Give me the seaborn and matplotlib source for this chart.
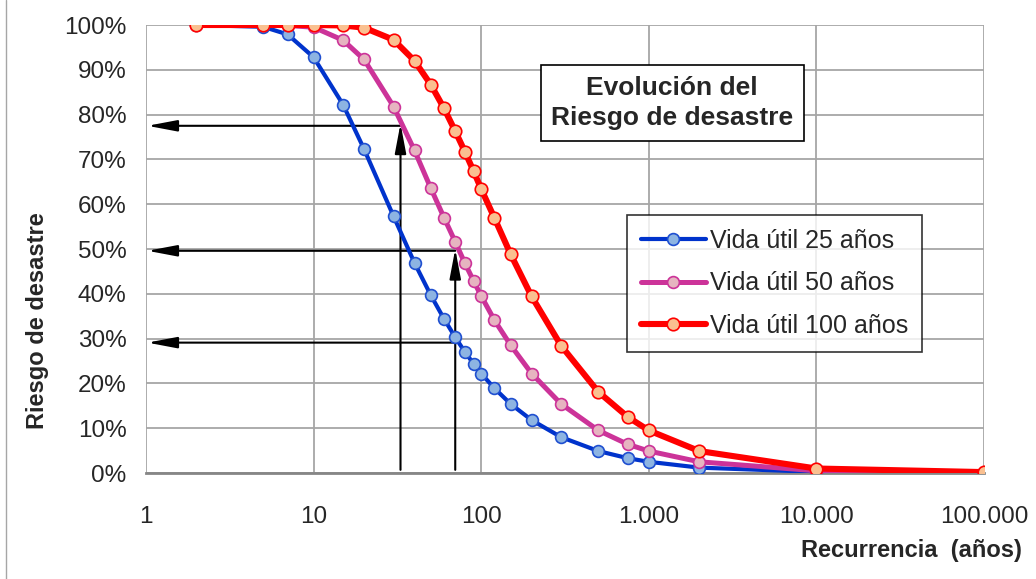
import matplotlib
matplotlib.use("Agg")
import matplotlib.pyplot as plt
from matplotlib import font_manager
from matplotlib.ticker import FixedLocator, FuncFormatter, NullLocator
import seaborn as sns
import pandas as pd

# ---- data ----
recurrencia = [2, 5, 7, 10, 15, 20, 30, 40, 50, 60, 70, 80, 90, 100, 120, 150,
               200, 300, 500, 750, 1000, 2000, 10000, 100000]
vida25 = [100.0, 99.6, 97.9, 92.8, 82.2, 72.3, 57.3, 46.9, 39.7, 34.4, 30.3, 27.0,
          24.4, 22.2, 18.9, 15.4, 11.8, 8.0, 4.9, 3.3, 2.5, 1.2, 0.25, 0.03]
vida50 = [100.0, 100.0, 99.9, 99.5, 96.6, 92.3, 81.8, 72.0, 63.6, 57.0, 51.6, 46.8,
          42.9, 39.5, 34.1, 28.5, 22.2, 15.4, 9.5, 6.4, 4.9, 2.5, 0.5, 0.05]
vida100 = [100.0, 100.0, 100.0, 100.0, 99.9, 99.4, 96.7, 92.0, 86.7, 81.4, 76.3, 71.7,
           67.4, 63.4, 56.9, 48.8, 39.4, 28.4, 18.1, 12.5, 9.5, 4.9, 1.0, 0.2]
series_labels = ["Vida útil 25 años", "Vida útil 50 años", "Vida útil 100 años"]

# guide arrows (recurrence, risk %)
vert_arrows_T = [33, 70]
vert_arrows_top = [78, 50]
horiz_arrows_start = [33, 70, 69]
horiz_arrows_y = [77.5, 49.6, 29.1]
arrow_end_T = 1.02

y_ticks = list(range(0, 101, 10))
x_ticks = [1, 10, 100, 1000, 10000, 100000]

# ---- style ----
sns.set_style("white")
avail = {f.name for f in font_manager.fontManager.ttflist}
fam = ["Liberation Sans Narrow", "DejaVu Sans"] if "Liberation Sans Narrow" in avail else ["Liberation Sans", "DejaVu Sans"]
plt.rcParams["font.family"] = fam

fig = plt.figure(figsize=(10.36, 5.79), dpi=100)
ax = fig.add_axes([146 / 1036, 1 - 473 / 579, 838 / 1036, 448 / 579])

styles = [
    dict(color="#0033CC", markerfacecolor="#8DB4E2", markeredgecolor="#1F4FD0", lw=3.0, ms=8.5),
    dict(color="#CC3399", markerfacecolor="#E6B4C0", markeredgecolor="#CC3399", lw=3.6, ms=8.5),
    dict(color="#FF0000", markerfacecolor="#FAC090", markeredgecolor="#FF0000", lw=4.4, ms=9),
]
for vals, lab, st in zip([vida25, vida50, vida100], series_labels, styles):
    df = pd.DataFrame({"T": recurrencia, "R": vals})
    sns.lineplot(data=df, x="T", y="R", ax=ax, label=lab, marker="o",
                 markeredgewidth=1.2, zorder=3, **st)

ax.set_xscale("log")
ax.set_xlim(1, 100000)
ax.set_ylim(0, 100)
ax.xaxis.set_major_locator(FixedLocator(x_ticks))
ax.xaxis.set_minor_locator(NullLocator())
ax.xaxis.set_major_formatter(FuncFormatter(lambda v, p: f"{int(round(v)):,}".replace(",", ".")))
ax.set_yticks(y_ticks)
ax.yaxis.set_major_formatter(FuncFormatter(lambda v, p: f"{int(v)}%"))

ax.grid(True, color="#A6A6A6", lw=1.3)
for s in ["top", "right", "left"]:
    ax.spines[s].set_visible(False)
ax.spines["bottom"].set_color("#868686")
ax.spines["bottom"].set_linewidth(2)
ax.tick_params(axis="both", which="major", labelsize=17.5, length=7, color="#A6A6A6", width=1.3)
ax.tick_params(axis="x", pad=17)
ax.tick_params(axis="y", pad=7)
ax.set_xlabel("")
ax.set_ylabel("")

# arrows
ap = dict(arrowstyle="-|>,head_length=0.9,head_width=0.17", color="black", lw=1.5,
          shrinkA=0, shrinkB=0, mutation_scale=20)
for T, top in zip(vert_arrows_T, vert_arrows_top):
    ax.annotate("", xy=(T, top), xytext=(T, 0.7), arrowprops=ap, zorder=2)
for T, yv in zip(horiz_arrows_start, horiz_arrows_y):
    ax.annotate("", xy=(arrow_end_T, yv), xytext=(T, yv), arrowprops=ap, zorder=2)

# title box
ax.text(0.628, 0.826, "Evolución del\nRiesgo de desastre", transform=ax.transAxes,
        ha="center", va="center", fontsize=19, fontweight="bold", linespacing=1.35,
        bbox=dict(boxstyle="square,pad=0.4", fc="white", ec="black", lw=1.2), zorder=5)

leg = ax.legend(loc="upper left", bbox_to_anchor=(0.574, 0.576), fontsize=18,
                frameon=True, fancybox=False, edgecolor="black", borderpad=0.55,
                handlelength=2.6, labelspacing=0.75, handletextpad=0.15,
                borderaxespad=0, handleheight=0.7)
leg.get_frame().set_linewidth(1.2)
leg.set_zorder(6)

fig.text(38 / 1036, 1 - 321 / 579, "Riesgo de desastre", rotation=90, ha="center",
         va="center", fontsize=17, fontweight="bold")
fig.text(1022 / 1036, 1 - 551 / 579, "Recurrencia  (años)", ha="right", va="center",
         fontsize=17, fontweight="bold")

fig.add_artist(plt.Line2D([6 / 1036, 6 / 1036], [0, 1], transform=fig.transFigure,
                          color="#A6A6A6", lw=1))

fig.savefig("out.png", dpi=100)
